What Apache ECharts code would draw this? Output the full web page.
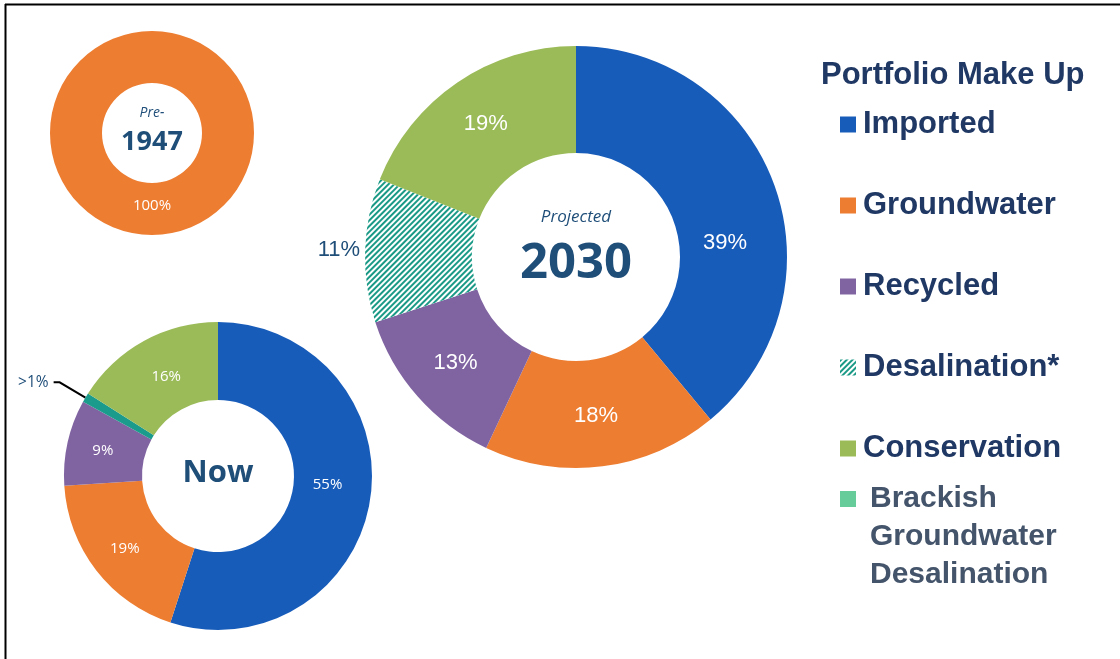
<!DOCTYPE html>
<html>
<head>
<meta charset="utf-8">
<script src="https://cdn.jsdelivr.net/npm/echarts@6/dist/echarts.min.js"></script>
<style>
  html, body { margin: 0; padding: 0; background: #fff; }
  #chart { width: 1120px; height: 659px; }
</style>
</head>
<body>
<div id="chart"></div>
<script>
// ---- data ----
var preNames = ['Groundwater'];
var preValues = [100];
var preLabels = ['100%'];

var nowNames = ['Imported', 'Groundwater', 'Recycled', 'Brackish Groundwater Desalination', 'Conservation'];
var nowValues = [55, 19, 9, 1, 16];
var nowLabels = ['55%', '19%', '9%', '>1%', '16%'];

var projNames = ['Imported', 'Groundwater', 'Recycled', 'Desalination*', 'Conservation'];
var projValues = [39, 18, 13, 11, 19];
var projLabels = ['39%', '18%', '13%', '11%', '19%'];

var legendNames = ['Imported', 'Groundwater', 'Recycled', 'Desalination*', 'Conservation'];
var legendExtra = 'Brackish Groundwater Desalination';

// ---- styles ----
var colors = {
    'Imported': '#185cba',
    'Groundwater': '#ed7d31',
    'Recycled': '#8064a2',
    'Desalination*': '#ffffff',
    'Conservation': '#9bbb59',
    'Brackish Groundwater Desalination': '#1a9b8c'
};
var navy = '#1f3864';
var centerBlue = '#1f4e79';

// diagonal stripes for desalination
var hatch = {
    color: '#1a9a86',
    symbol: 'rect',
    symbolSize: 1,
    dashArrayX: [1, 0],
    dashArrayY: [2, 2],
    rotation: -Math.PI / 4
};

function buildData(names, values, labels, special) {
    return names.map(function (n, i) {
        var item = {
            name: n,
            value: values[i],
            label: { formatter: labels[i] },
            itemStyle: { color: colors[n] }
        };
        if (n === 'Desalination*') item.itemStyle.decal = hatch;
        if (special && special[n]) {
            item.label = Object.assign(item.label, special[n].label);
            if (special[n].labelLine) item.labelLine = special[n].labelLine;
        }
        return item;
    });
}

var chart = echarts.init(document.getElementById('chart'));

var option = {
    backgroundColor: '#ffffff',
    animation: false,
    title: {
        text: 'Portfolio Make Up',
        left: 821,
        top: 60,
        padding: 0,
        textStyle: { fontFamily: 'Liberation Sans', fontWeight: 'bold', fontSize: 31, color: navy }
    },
    legend: [{
        data: legendNames,
        orient: 'vertical',
        left: 840,
        top: 109,
        padding: 0,
        itemWidth: 16,
        itemHeight: 16,
        itemGap: 50,
        icon: 'rect',
        selectedMode: false,
        textStyle: {
            fontFamily: 'Liberation Sans', fontWeight: 'bold', fontSize: 31, lineHeight: 31,
            color: navy, padding: [0, 0, 0, 2]
        }
    }, {
        data: [{ name: legendExtra, itemStyle: { color: '#66cc99' } }],
        orient: 'vertical',
        left: 840,
        top: 404,
        padding: 0,
        itemWidth: 16,
        itemHeight: 16,
        icon: 'rect',
        selectedMode: false,
        // two empty lines on top keep "Brackish" level with the icon
        formatter: function (n) { return '\n\n' + n.split(' ').join('\n'); },
        textStyle: {
            fontFamily: 'Liberation Sans', fontWeight: 'bold', fontSize: 30, lineHeight: 38,
            color: '#44546a', padding: [0, 0, 0, 9]
        }
    }],
    series: [{
        name: 'Pre-1947',
        type: 'pie',
        center: [152, 133],
        radius: [50, 102],
        startAngle: 90,
        avoidLabelOverlap: false,
        silent: true,
        label: {
            position: 'inside', color: '#ffffff', fontFamily: 'Open Sans', fontSize: 15, offset: [0, -6]
        },
        labelLine: { show: false },
        data: buildData(preNames, preValues, preLabels)
    }, {
        name: 'Now',
        type: 'pie',
        center: [218, 476],
        radius: [76, 154],
        startAngle: 90,
        avoidLabelOverlap: false,
        silent: true,
        label: {
            position: 'inside', color: '#ffffff', fontFamily: 'Open Sans', fontSize: 15
        },
        labelLine: { show: false },
        data: buildData(nowNames, nowValues, nowLabels, {
            'Imported': { label: { offset: [-7, -10] } },
            'Conservation': { label: { offset: [5, 4] } },
            'Brackish Groundwater Desalination': {
                label: { position: 'outside', color: centerBlue, fontSize: 15.5 },
                labelLine: { show: true, length: 30, length2: 6, lineStyle: { color: '#000', width: 2 } }
            }
        })
    }, {
        name: 'Projected 2030',
        type: 'pie',
        center: [576, 257],
        radius: [104, 211],
        startAngle: 90,
        avoidLabelOverlap: false,
        silent: true,
        label: {
            position: 'inside', color: '#ffffff', fontFamily: 'Liberation Sans', fontSize: 22
        },
        labelLine: { show: false },
        data: buildData(projNames, projValues, projLabels, {
            'Imported': { label: { offset: [-2, 40] } },
            'Desalination*': {
                label: { position: 'outside', color: centerBlue, fontSize: 22 },
                labelLine: { show: false, length: 0, length2: 0 }
            }
        })
    }],
    graphic: [
        { type: 'line', shape: { x1: 5, y1: 4.5, x2: 1120, y2: 4.5 }, style: { stroke: '#000', lineWidth: 2 } },
        { type: 'line', shape: { x1: 5.5, y1: 4, x2: 5.5, y2: 659 }, style: { stroke: '#000', lineWidth: 2 } },
        { type: 'text', x: 152, y: 113, style: { text: 'Pre-', fill: centerBlue, font: 'italic 14px "Open Sans"', textAlign: 'center', textVerticalAlign: 'middle' } },
        { type: 'text', x: 152, y: 142, style: { text: '1947', fill: centerBlue, font: 'bold 27px "Open Sans"', textAlign: 'center', textVerticalAlign: 'middle' } },
        { type: 'text', x: 218, y: 473, style: { text: 'Now', fill: centerBlue, font: 'bold 31px "Open Sans"', textAlign: 'center', textVerticalAlign: 'middle' } },
        { type: 'text', x: 576, y: 217, style: { text: 'Projected', fill: centerBlue, font: 'italic 17px "Open Sans"', textAlign: 'center', textVerticalAlign: 'middle' } },
        { type: 'text', x: 576, y: 264, style: { text: '2030', fill: centerBlue, font: 'bold 49px "Open Sans"', textAlign: 'center', textVerticalAlign: 'middle' } }
    ]
};

chart.setOption(option);
</script>
</body>
</html>
